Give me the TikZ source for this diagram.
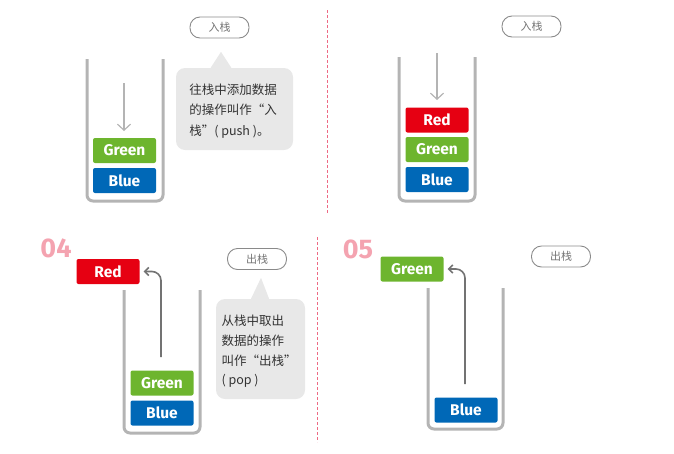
\documentclass[tikz,border=0pt]{standalone}
\usepackage{fontspec}
\usetikzlibrary{arrows.meta}
\setmainfont{Fira Sans}
\newfontfamily\cjk{Noto Sans CJK SC}

\definecolor{stackred}{HTML}{E60012}
\definecolor{stackgreen}{HTML}{6DB52E}
\definecolor{stackblue}{HTML}{0068B7}
\definecolor{wallgray}{HTML}{B4B4B4}
\definecolor{bubblegray}{HTML}{E8E8E8}
\definecolor{pillgray}{HTML}{8A8A8A}
\definecolor{numpink}{HTML}{F4A3B0}
\definecolor{divpink}{HTML}{EE6A84}

\tikzset{
  item/.style={rounded corners=2pt, minimum width=63pt, minimum height=25pt,
    inner sep=0pt, text=white, font=\fontsize{15.5}{15.5}\selectfont\bfseries},
  pill/.style={draw=pillgray, line width=0.9pt, rounded corners=10pt,
    minimum width=59pt, minimum height=21pt, inner sep=0pt,
    text=pillgray!85!black, font=\cjk\fontsize{11}{11}\selectfont},
  bubble/.style={fill=bubblegray, rounded corners=9pt, inner sep=0pt},
  note/.style={align=left, inner sep=0pt, text=black!80,
    font=\cjk\fontsize{12.5}{20.5}\selectfont},
  wall/.style={draw=wallgray, line width=3pt, rounded corners=6pt},
  pusharrow/.style={draw=wallgray, line width=1.2pt,
    -{Straight Barb[length=6pt, width=13pt]}},
  poparrow/.style={draw=black!55, line width=1.6pt, rounded corners=9pt,
    -{Straight Barb[length=4pt, width=8pt]}},
  divider/.style={draw=divpink, line width=1pt, dash pattern=on 2.5pt off 2.5pt},
  stepno/.style={inner sep=0pt, text=numpink,
    font=\fontsize{27}{27}\selectfont\bfseries}
}

\begin{document}
\begin{tikzpicture}[x=1pt,y=-1pt]
  \useasboundingbox (0,0) rectangle (674,453);

  % dividers between the panels
  \draw[divider] (327,10) -- (327,213);
  \draw[divider] (317,237) -- (317,442);

  % panel 1: push Green
  \draw[wall] (87,59) -- (87,201) -- (163,201) -- (163,59);
  \node[item, fill=stackgreen] (p1green) at (124.5,150.5) {Green};
  \node[item, fill=stackblue] (p1blue) at (124.5,180.5) {Blue};
  \coordinate (p1from) at (124,83);
  \coordinate (p1to) at (124,131);
  \draw[pusharrow] (p1from) -- (p1to);
  \node[pill] (p1tag) at (219.5,27.5) {入栈};
  \node[bubble, minimum width=117pt, minimum height=82pt] (p1note) at (234.5,109) {};
  \fill[bubblegray] ([xshift=-24.5pt,yshift=-1pt]p1note.north)
    -- ([xshift=-13.5pt,yshift=16pt]p1note.north)
    -- ([xshift=-2.5pt,yshift=-1pt]p1note.north) -- cycle;
  \node[note] (p1text) at (233,111) {往栈中添加数据\\的操作叫作“入\\栈”( push )。};

  % panel 2: push Red
  \draw[wall] (399,57) -- (399,201) -- (475,201) -- (475,57);
  \node[item, fill=stackred] (p2red) at (437,120) {Red};
  \node[item, fill=stackgreen] (p2green) at (437,149.5) {Green};
  \node[item, fill=stackblue] (p2blue) at (437,179.5) {Blue};
  \coordinate (p2from) at (437,53);
  \coordinate (p2to) at (437,100);
  \draw[pusharrow] (p2from) -- (p2to);
  \node[pill] (p2tag) at (531.5,26.5) {入栈};

  % panel 3: pop Red
  \node[stepno] (p3no) at (56,248) {04};
  \node[item, fill=stackred] (p3red) at (108,271.5) {Red};
  \draw[wall] (124,290) -- (124,433) -- (200,433) -- (200,290);
  \node[item, fill=stackgreen] (p3green) at (162,383) {Green};
  \node[item, fill=stackblue] (p3blue) at (162,413) {Blue};
  \coordinate (p3from) at (161,357);
  \draw[poparrow] (p3from) |- ([xshift=4pt]p3red.east);
  \node[pill] (p3tag) at (257,259) {出栈};
  \node[bubble, minimum width=89pt, minimum height=100pt] (p3note) at (260.5,349) {};
  \fill[bubblegray] ([xshift=-10pt,yshift=-1pt]p3note.north)
    -- ([xshift=0.5pt,yshift=21pt]p3note.north)
    -- ([xshift=9pt,yshift=-1pt]p3note.north) -- cycle;
  \node[note, font=\cjk\fontsize{12.5}{19.7}\selectfont] (p3text) at (259,351.5)
    {从栈中取出\\数据的操作\\叫作“出栈”\\( pop )};

  % panel 4: pop Green
  \node[stepno] (p4no) at (358,249) {05};
  \node[item, fill=stackgreen] (p4green) at (412,269) {Green};
  \draw[wall] (428,288) -- (428,429) -- (503,429) -- (503,288);
  \node[item, fill=stackblue] (p4blue) at (466,410) {Blue};
  \coordinate (p4from) at (465,384);
  \draw[poparrow] (p4from) |- ([xshift=4pt]p4green.east);
  \node[pill] (p4tag) at (561,256.5) {出栈};
\end{tikzpicture}
\end{document}
